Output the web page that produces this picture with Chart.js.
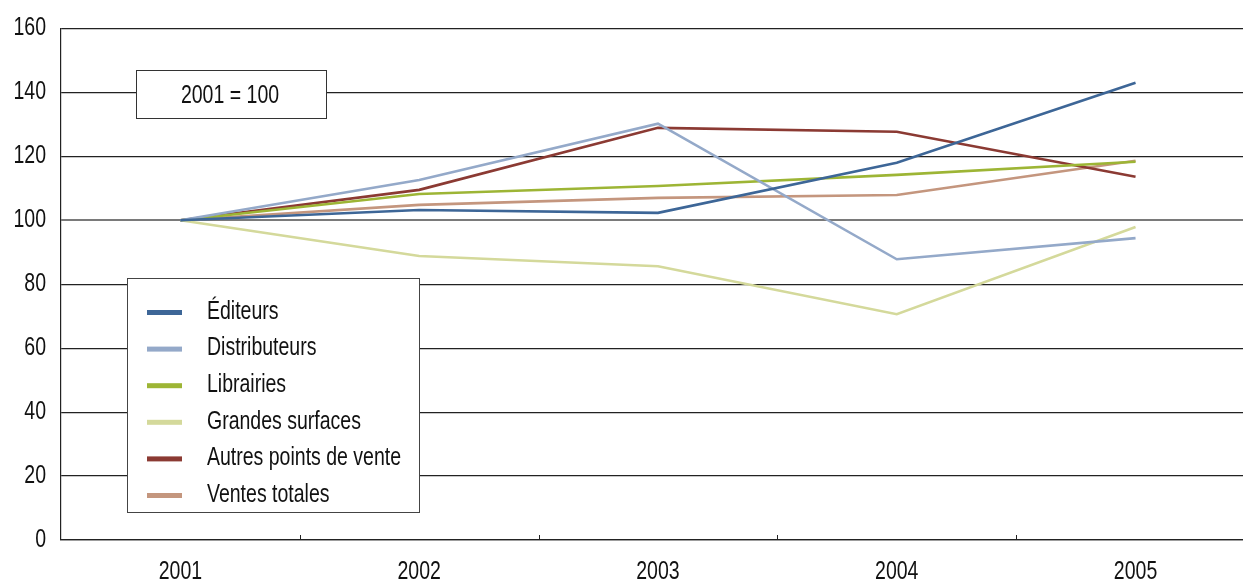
<!DOCTYPE html>
<html>
<head>
<meta charset="utf-8">
<script src="https://cdn.jsdelivr.net/npm/chart.js@4/dist/chart.umd.min.js"></script>
<style>
  html, body { margin: 0; padding: 0; background: #fff; }
  #wrap { width: 1243px; height: 583px; }
</style>
</head>
<body>
<div id="wrap"><canvas id="chartIndices"></canvas></div>
<script>
const annees = ["2001", "2002", "2003", "2004", "2005"];
const editeurs = [100, 103.2, 102.3, 118, 143];
const distributeurs = [100, 112.6, 130.2, 87.8, 94.4];
const librairies = [100, 108.2, 110.7, 114.2, 118.3];
const grandesSurfaces = [100, 88.8, 85.6, 70.6, 97.9];
const autresPoints = [100, 109.5, 128.9, 127.7, 113.6];
const ventesTotales = [100, 104.8, 107, 107.9, 118.6];

const police = "'Liberation Sans', Arial, sans-serif";
const serre = 0.78; // narrow look, like Arial Narrow

function serie(label, data, color) {
  return {
    label: label,
    data: data.map((v, i) => ({ x: i, y: v })),
    borderColor: color,
    backgroundColor: color,
    borderWidth: 2.6,
    pointRadius: 0,
    tension: 0,
  };
}

function texte(ctx, str, x, y, align) {
  ctx.save();
  ctx.translate(x, y);
  ctx.scale(serre, 1);
  ctx.textAlign = align;
  ctx.textBaseline = "middle";
  ctx.fillText(str, 0, 0);
  ctx.restore();
}

// narrow tick labels, legend box, "2001 = 100" note, x ticks between years
const decor = {
  id: "decor",
  afterDraw(chart) {
    const ctx = chart.ctx;
    const x = chart.scales.x;
    const y = chart.scales.y;
    const bas = chart.chartArea.bottom;

    ctx.save();
    ctx.font = "25px " + police;
    ctx.fillStyle = "#111";
    y.ticks.forEach((t) => {
      texte(ctx, String(t.value), 46, y.getPixelForValue(t.value), "right");
    });
    annees.forEach((a, i) => {
      texte(ctx, a, x.getPixelForValue(i), 572, "center");
    });

    ctx.strokeStyle = "#222";
    ctx.lineWidth = 1;
    for (let i = 0; i < annees.length - 1; i++) {
      const px = Math.round(x.getPixelForValue(i + 0.5)) + 0.5;
      ctx.beginPath();
      ctx.moveTo(px, bas);
      ctx.lineTo(px, bas - 5);
      ctx.stroke();
    }

    // note
    ctx.fillStyle = "#fff";
    ctx.fillRect(136, 70, 190, 48);
    ctx.strokeStyle = "#333";
    ctx.strokeRect(136.5, 70.5, 190, 48);
    ctx.fillStyle = "#111";
    texte(ctx, "2001 = 100", 230, 96, "center");

    // legend
    ctx.fillStyle = "#fff";
    ctx.fillRect(127, 278, 292, 234);
    ctx.strokeStyle = "#444";
    ctx.strokeRect(127.5, 278.5, 292, 234);
    chart.data.datasets.forEach((ds, i) => {
      const ly = 312 + i * 36.6;
      ctx.fillStyle = ds.borderColor;
      ctx.fillRect(147, ly - 2, 35, 5);
      ctx.fillStyle = "#111";
      texte(ctx, ds.label, 207, ly, "left");
    });
    ctx.restore();
  },
};

new Chart(document.getElementById("chartIndices"), {
  type: "line",
  data: {
    datasets: [
      serie("Éditeurs", editeurs, "#3d6697"),
      serie("Distributeurs", distributeurs, "#94a9c9"),
      serie("Librairies", librairies, "#9db535"),
      serie("Grandes surfaces", grandesSurfaces, "#d4d99b"),
      serie("Autres points de vente", autresPoints, "#8b3a33"),
      serie("Ventes totales", ventesTotales, "#c4967e"),
    ],
  },
  options: {
    responsive: true,
    maintainAspectRatio: false,
    animation: false,
    layout: { padding: { top: 28, right: 0, left: 0, bottom: 0 } },
    plugins: {
      legend: { display: false },
      tooltip: { enabled: false },
    },
    scales: {
      x: {
        type: "linear",
        min: -0.5,
        max: 4.45,
        grid: { display: false, drawTicks: false },
        border: { display: true, color: "#222", width: 1.2 },
        afterBuildTicks: (s) => {
          s.ticks = annees.map((a, i) => ({ value: i }));
        },
        ticks: {
          color: "rgba(0,0,0,0)",
          font: { family: police, size: 24 },
          padding: 12,
          callback: (v) => annees[v],
        },
        afterFit: (s) => { s.height = 43; },
      },
      y: {
        min: 0,
        max: 160,
        ticks: {
          stepSize: 20,
          color: "rgba(0,0,0,0)",
          font: { family: police, size: 24 },
          padding: 14,
        },
        grid: {
          color: (c) => (c.tick && c.tick.value === 100 ? "#7a7a7a" : "#222"),
          lineWidth: (c) => (c.tick && c.tick.value === 100 ? 2 : 1.2),
          drawTicks: false,
        },
        border: { display: true, color: "#222", width: 1.2 },
        afterFit: (s) => { s.width = 61; },
      },
    },
  },
  plugins: [decor],
});
</script>
</body>
</html>
